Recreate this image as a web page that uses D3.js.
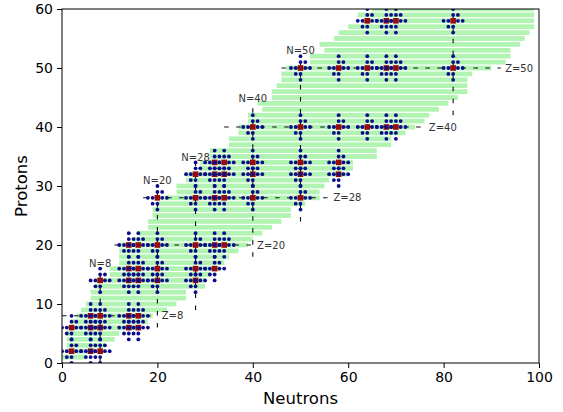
<!DOCTYPE html>
<html>
<head>
<meta charset="utf-8">
<script src="https://cdn.jsdelivr.net/npm/d3@7"></script>
<style>
  body { margin: 0; background: #fff; }
  svg text { font-family: "DejaVu Sans", sans-serif; }
</style>
</head>
<body>
<div id="chart"></div>
<script>
// one row per proton number: neutron span of the known nuclei
const protons = d3.range(1, 61)
const nMin = [0, 1, 1, 1, 1, 2, 2, 3, 4, 5, 6, 6, 7, 7, 10, 10, 12, 12, 12, 12,
              15, 16, 18, 18, 19, 19, 20, 21, 24, 24, 26, 26, 29, 29, 31, 31, 35, 35, 37, 37,
              39, 39, 42, 41, 44, 44, 45, 46, 46, 47, 52, 52, 55, 54, 57, 58, 60, 63, 62, 65]
const nMax = [5, 7, 9, 11, 12, 16, 18, 19, 22, 24, 26, 26, 30, 30, 31, 33, 34, 35, 37, 39,
              40, 42, 44, 46, 48, 48, 51, 54, 54, 55, 56, 60, 61, 61, 66, 66, 69, 69, 72, 74,
              76, 77, 79, 81, 83, 85, 85, 85, 86, 90, 93, 94, 94, 96, 97, 98, 99, 99, 99, 99]

// nuclei with magic / sub-shell numbers of both N and Z, as [N, Z]
const magicNuclei = [
  [2, 2], [6, 2], [8, 2],
  [2, 6], [6, 6], [8, 6], [14, 6], [16, 6],
  [6, 8], [8, 8], [14, 8], [16, 8],
  [8, 14], [14, 14], [16, 14], [20, 14], [28, 14],
  [14, 16], [16, 16], [20, 16], [28, 16], [32, 16],
  [14, 20], [16, 20], [20, 20], [28, 20], [32, 20], [34, 20],
  [20, 28], [28, 28], [32, 28], [34, 28], [40, 28], [50, 28],
  [28, 32], [32, 32], [34, 32], [40, 32], [50, 32], [58, 32],
  [32, 34], [34, 34], [40, 34], [50, 34], [58, 34],
  [40, 40], [50, 40], [58, 40], [64, 40], [68, 40], [70, 40],
  [50, 50], [58, 50], [64, 50], [68, 50], [70, 50], [82, 50],
  [64, 58], [68, 58], [70, 58], [82, 58]
]

// neighbours marked in blue around every red nucleus, as [dN, dZ]
const neighbours = [[-2, 0], [-1, 0], [1, 0], [2, 0], [0, 1], [1, 1], [0, 2], [-1, -1], [0, -1], [0, -2]]

// dashed magic-number lines
const neutronLines = [
  { n: 8, from: 0, to: 16 }, { n: 20, from: 6, to: 30 }, { n: 28, from: 9, to: 34 },
  { n: 40, from: 18, to: 44 }, { n: 50, from: 24, to: 52 }, { n: 82, from: 42, to: 68 }
]
const protonLines = [
  { z: 8, from: 0, to: 20 }, { z: 20, from: 11, to: 40 }, { z: 28, from: 17, to: 56 },
  { z: 40, from: 34, to: 76 }, { z: 50, from: 46, to: 92 }
]

const xTicks = [0, 20, 40, 60, 80, 100]
const yTicks = [0, 10, 20, 30, 40, 50, 60]

const width = 563, height = 412
const margin = { left: 62, right: 539, top: 9, bottom: 363 }

const x = d3.scaleLinear().domain([0, 100]).range([margin.left, margin.right])
const y = d3.scaleLinear().domain([0, 60]).range([margin.bottom, margin.top])

const svg = d3.select('#chart')
  .append('svg')
  .attr('width', width)
  .attr('height', height)

svg.append('clipPath')
  .attr('id', 'plot')
  .append('rect')
  .attr('x', margin.left)
  .attr('y', margin.top)
  .attr('width', margin.right - margin.left)
  .attr('height', margin.bottom - margin.top)

const plot = svg.append('g').attr('clip-path', 'url(#plot)')

// green nuclide rows
plot.selectAll('rect.row')
  .data(protons)
  .enter()
    .append('rect')
    .attr('class', 'row')
    .attr('x', (z, i) => x(nMin[i]))
    .attr('width', (z, i) => x(nMax[i]) - x(nMin[i]))
    .attr('y', z => y(z + 0.4))
    .attr('height', z => y(z - 0.4) - y(z + 0.4))
    .attr('fill', '#b1f3b1')

// dashed lines
plot.selectAll('line.nline')
  .data(neutronLines)
  .enter()
    .append('line')
    .attr('class', 'nline')
    .attr('x1', d => x(d.n)).attr('x2', d => x(d.n))
    .attr('y1', d => y(d.from)).attr('y2', d => y(d.to))

plot.selectAll('line.zline')
  .data(protonLines)
  .enter()
    .append('line')
    .attr('class', 'zline')
    .attr('x1', d => x(d.from)).attr('x2', d => x(d.to))
    .attr('y1', d => y(d.z)).attr('y2', d => y(d.z))

plot.selectAll('line.nline, line.zline')
  .attr('stroke', '#111')
  .attr('stroke-width', 1.1)
  .attr('stroke-dasharray', '4.5,7.5')

// red nucleus, then its blue neighbours, one cluster after the other
const clusters = plot.selectAll('g.cluster')
  .data(magicNuclei)
  .enter()
    .append('g')
    .attr('class', 'cluster')

clusters.append('rect')
  .attr('x', d => x(d[0]) - 2.8)
  .attr('y', d => y(d[1]) - 2.8)
  .attr('width', 5.6)
  .attr('height', 5.6)
  .attr('fill', '#990a0a')

clusters.selectAll('circle')
  .data(d => neighbours.map(o => [d[0] + o[0], d[1] + o[1]]))
  .enter()
    .append('circle')
    .attr('cx', d => x(d[0]))
    .attr('cy', d => y(d[1]))
    .attr('r', 1.9)
    .attr('fill', '#0b0b8c')

// line labels
svg.selectAll('text.nlabel')
  .data(neutronLines.filter(d => d.to < 60))
  .enter()
    .append('text')
    .attr('class', 'nlabel')
    .attr('x', d => x(d.n))
    .attr('y', d => y(d.to + 0.3))
    .attr('text-anchor', 'middle')
    .text(d => 'N=' + d.n)

svg.selectAll('text.zlabel')
  .data(protonLines)
  .enter()
    .append('text')
    .attr('class', 'zlabel')
    .attr('x', d => x(d.to + 0.9))
    .attr('y', d => y(d.z))
    .attr('dy', '0.35em')
    .text(d => 'Z=' + d.z)

svg.selectAll('text.nlabel, text.zlabel')
  .attr('font-size', 10)
  .attr('fill', '#333')

// axes
svg.append('g')
  .attr('transform', `translate(0,${margin.bottom})`)
  .call(d3.axisBottom(x).tickValues(xTicks).tickSize(5).tickPadding(4))
svg.append('g')
  .attr('transform', `translate(${margin.left},0)`)
  .call(d3.axisLeft(y).tickValues(yTicks).tickSize(5).tickPadding(4))

svg.selectAll('.domain').remove()
svg.selectAll('.tick line').attr('stroke', '#000').attr('stroke-width', 1)
svg.selectAll('.tick text').attr('font-size', 14).attr('fill', '#000')

svg.append('rect')
  .attr('x', margin.left)
  .attr('y', margin.top)
  .attr('width', margin.right - margin.left)
  .attr('height', margin.bottom - margin.top)
  .attr('fill', 'none')
  .attr('stroke', '#000')
  .attr('stroke-width', 1)

svg.append('text')
  .attr('x', (margin.left + margin.right) / 2)
  .attr('y', 404)
  .attr('text-anchor', 'middle')
  .attr('font-size', 16.5)
  .text('Neutrons')

svg.append('text')
  .attr('transform', `translate(27,${(margin.top + margin.bottom) / 2}) rotate(-90)`)
  .attr('text-anchor', 'middle')
  .attr('font-size', 16.5)
  .text('Protons')
</script>
</body>
</html>
